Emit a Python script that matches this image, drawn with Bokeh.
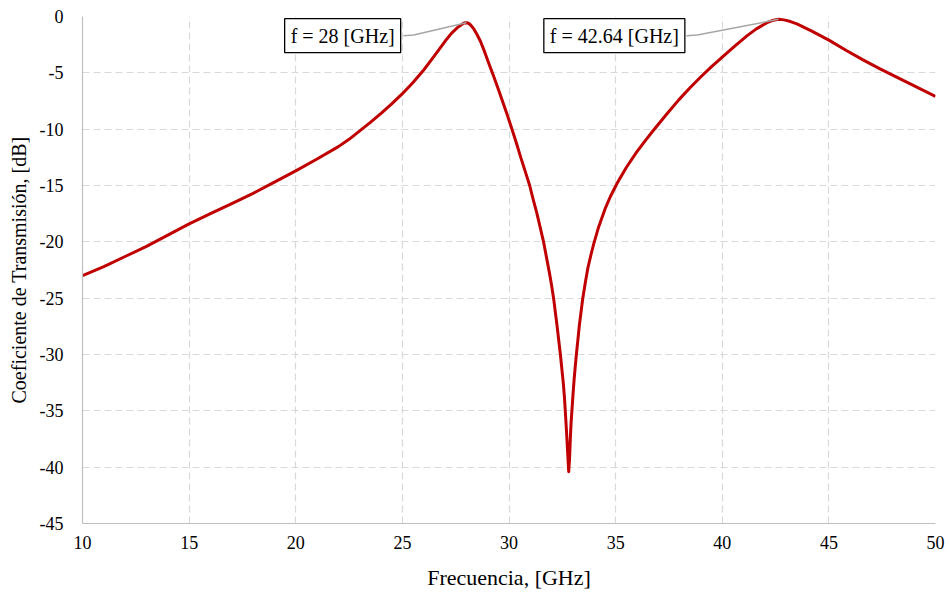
from bokeh.plotting import figure
from bokeh.models import (FixedTicker, CustomJSTickFormatter, Label, ColumnDataSource, Range1d,
                          InlineStyleSheet)
from bokeh.embed import file_html
from bokeh.resources import INLINE

# ---- data ----
freq_ghz = [10.0, 11.0, 12.0, 13.0, 14.0, 15.0, 16.0, 17.0, 18.0, 19.0, 20.0, 21.0, 22.0, 22.5,
            23.0, 23.5, 24.0, 24.5, 25.0, 25.5, 26.0, 26.5, 27.0, 27.3, 27.6, 27.8, 27.9, 28.0,
            28.1, 28.2, 28.35, 28.5, 28.66, 28.85, 29.05, 29.28, 29.5, 29.7, 29.92, 30.14,
            30.35, 30.55, 30.76, 30.97, 31.13, 31.3, 31.46, 31.62, 31.76, 31.9, 32.0, 32.09,
            32.17, 32.25, 32.33, 32.41, 32.48, 32.55, 32.6, 32.64, 32.68, 32.72, 32.76, 32.8,
            32.84, 32.88, 32.91, 32.95, 33.0, 33.05, 33.1, 33.16, 33.23, 33.3, 33.38, 33.46,
            33.58, 33.7, 33.85, 33.97, 34.2, 34.5, 34.75, 35.07, 35.5, 36.0, 36.4, 36.86, 37.4,
            37.96, 38.5, 39.0, 39.5, 40.0, 40.6, 41.17, 41.6, 42.1, 42.4, 42.64, 42.9, 43.2,
            43.5, 44.2, 45.0, 45.8, 46.6, 47.4, 48.2, 49.1, 50.0]
s21_db = [-23.0, -22.2, -21.3, -20.4, -19.4, -18.4, -17.5, -16.6, -15.7, -14.7, -13.7, -12.65,
          -11.55, -10.9, -10.15, -9.4, -8.6, -7.75, -6.85, -5.85, -4.75, -3.5, -2.2, -1.5,
          -0.95, -0.68, -0.58, -0.55, -0.6, -0.75, -1.1, -1.6, -2.2, -3.1, -4.15, -5.3, -6.45,
          -7.55, -8.75, -10.0, -11.25, -12.5, -13.75, -15.0, -16.2, -17.4, -18.7, -20.0, -21.4,
          -22.8, -23.9, -25.0, -26.2, -27.4, -28.7, -30.0, -31.3, -32.6, -33.8, -35.0, -36.3,
          -37.6, -39.0, -40.4, -39.2, -37.3, -36.1, -35.0, -33.6, -32.3, -31.2, -30.0, -28.7,
          -27.4, -26.2, -25.0, -23.6, -22.3, -21.1, -20.2, -18.7, -17.1, -16.0, -14.8, -13.4,
          -12.0, -11.0, -9.9, -8.65, -7.4, -6.3, -5.35, -4.45, -3.6, -2.6, -1.7, -1.1, -0.55,
          -0.33, -0.25, -0.3, -0.45, -0.65, -1.3, -2.1, -3.0, -3.85, -4.65, -5.4, -6.25, -7.1]

x_ticks = [10, 15, 20, 25, 30, 35, 40, 45, 50]
y_ticks = [0, -5, -10, -15, -20, -25, -30, -35, -40, -45]

# annotations: peak frequency, peak value, label text, label anchor (data units)
peak_freq = [28.0, 42.64]
peak_db = [-0.55, -0.25]
peak_text = ["f = 28 [GHz]", "f = 42.64 [GHz]"]
label_x = [22.2, 34.94]
label_y = [-1.7, -1.7]
leader_start_x = [25.05, 38.32]
leader_knee_x = [25.53, 38.83]

FONT = "Liberation Serif"

p = figure(width=950, height=594, output_backend="svg", toolbar_location=None,
           x_range=Range1d(10, 50), y_range=Range1d(-45, 0),
           min_border_left=82, min_border_top=16, min_border_right=15, min_border_bottom=71)
p.outline_line_color = None
p.background_fill_color = "white"
p.border_fill_color = "white"
# make every text of the figure use the serif face (tick labels included)
p.stylesheets = [InlineStyleSheet(css="* { font-family: 'Liberation Serif', serif !important; } "
                                      "text, tspan { font-family: 'Liberation Serif', serif !important; }")]

for ax in (p.xaxis[0], p.yaxis[0]):
    ax.axis_line_color = "#bfbfbf"
    ax.axis_line_width = 1.2
    ax.major_tick_line_color = None
    ax.minor_tick_line_color = None
    ax.major_tick_out = 0
    ax.major_tick_in = 0
    ax.minor_tick_out = 0
    ax.major_label_text_font = FONT
    ax.major_label_text_font_size = "18px"
    ax.major_label_text_font_style = "normal"
    ax.major_label_text_color = "#000000"
    ax.axis_label_text_font = FONT
    ax.axis_label_text_font_style = "normal"
    ax.axis_label_text_color = "#000000"
    ax.formatter = CustomJSTickFormatter(code="return tick.toFixed(0);")

p.xaxis[0].axis_label_text_font_size = "22px"
p.yaxis[0].axis_label_text_font_size = "20px"
p.xaxis[0].ticker = FixedTicker(ticks=x_ticks)
p.yaxis[0].ticker = FixedTicker(ticks=y_ticks)
p.xaxis[0].axis_label = "Frecuencia, [GHz]"
p.yaxis[0].axis_label = "Coeficiente de Transmisión, [dB]"
p.xaxis[0].major_label_standoff = 12
p.yaxis[0].major_label_standoff = 19
p.xaxis[0].axis_label_standoff = 13
p.yaxis[0].axis_label_standoff = 7

for g in (p.xgrid[0], p.ygrid[0]):
    g.grid_line_color = "#d9d9d9"
    g.grid_line_width = 1.2
    g.grid_line_dash = "7 4"

src = ColumnDataSource(dict(f=freq_ghz, s=s21_db))
p.line("f", "s", source=src, line_color="#c00000", line_width=3, line_join="round")

for i in range(len(peak_freq)):
    xs = [leader_start_x[i], leader_knee_x[i], peak_freq[i]]
    ys = [label_y[i], label_y[i] + 0.05, peak_db[i]]
    p.line(xs, ys, line_color="#a6a6a6", line_width=1.5)
    lab = Label(x=label_x[i], y=label_y[i], text=peak_text[i], text_align="center",
                text_baseline="middle", text_font=FONT, text_font_size="20px",
                text_color="#000000", background_fill_color="white",
                border_line_color="#000000", border_line_width=1.3, padding=6)
    p.add_layout(lab)

open("out.html", "w").write(file_html(p, INLINE))
